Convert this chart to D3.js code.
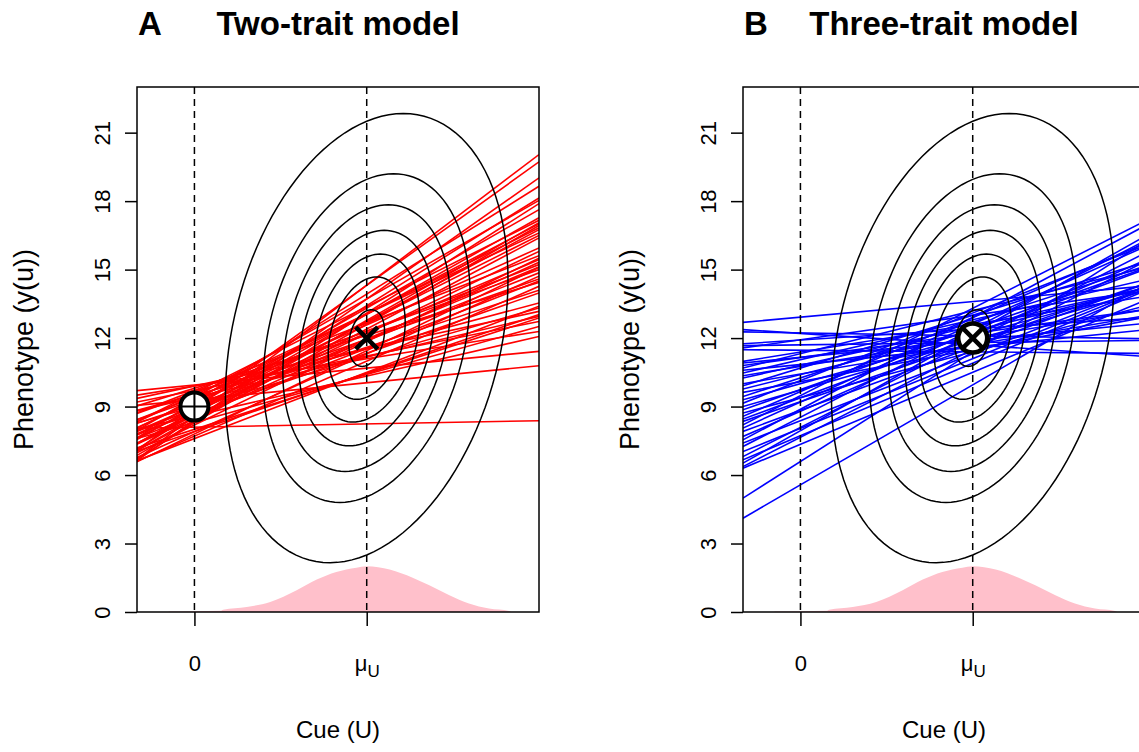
<!DOCTYPE html>
<html>
<head>
<meta charset="utf-8">
<script src="https://cdn.jsdelivr.net/npm/d3@7"></script>
<style>
  body { margin: 0; background: #fff; }
  svg text { font-family: "Liberation Sans", Arial, sans-serif; fill: #000; }
</style>
</head>
<body>
<div id="chart"></div>
<script>
// axis ticks
const yTicks = [0, 3, 6, 9, 12, 15, 18, 21];
const xTicks = [0, 3];

// environment: cue mean and phenotype mean of the contours
const cueMean = 3;
const phenoMean = 12;

// contour half widths (cue units), vertical / horizontal stretch and tilt
const contourHalfWidths = [2.46, 1.8, 1.46, 1.18, 0.92, 0.67, 0.31];
const contourAspect = 4.0;
const contourRho = 0.26;

// cue density (pink)
const densityX = [-0.45, 0, 0.45, 0.5, 0.91, 1.32, 1.78, 2.13, 2.47, 2.82, 3.0, 3.4, 3.8, 4.09, 4.44, 4.78, 5.13, 5.48, 5.52];
const densityY = [0.02, 0.03, 0.05, 0.1, 0.22, 0.44, 0.95, 1.42, 1.75, 1.94, 2.0, 1.86, 1.5, 1.17, 0.73, 0.37, 0.15, 0.04, 0];

// reaction norms, value at cue = -1 and at cue = 6
const redLeft = [6.69, 7.10, 6.63, 7.63, 7.13, 7.96, 6.70, 7.56, 7.39, 8.34,
  7.08, 7.78, 6.86, 8.05, 7.36, 8.32, 7.63, 7.07, 8.08, 7.40,
  8.72, 6.98, 7.93, 7.36, 8.43, 7.75, 6.58, 8.70, 7.91, 6.77,
  8.42, 7.62, 9.03, 6.61, 8.27, 7.82, 8.83, 6.63, 8.28, 9.36,
  7.05, 8.81, 7.19, 9.20, 7.60, 9.50, 8.02, 9.70, 9.05, 8.05];
const redRight = [20.04, 19.72, 19.02, 18.65, 18.14, 18.03, 17.89, 17.63, 17.27, 17.16,
  17.05, 17.00, 16.93, 16.83, 16.75, 16.61, 16.50, 16.39, 15.95, 15.80,
  15.61, 15.50, 15.44, 15.32, 15.22, 15.12, 15.10, 15.00, 14.86, 14.71,
  14.59, 14.50, 14.44, 14.27, 14.10, 13.98, 13.54, 13.40, 13.32, 13.17,
  13.03, 12.95, 12.88, 12.73, 12.51, 12.29, 12.07, 11.42, 10.79, 8.38];

const blueLeft = [12.69, 12.37, 12.27, 11.75, 11.67, 11.57, 11.49, 10.98, 10.91, 10.80,
  10.69, 10.59, 10.47, 10.35, 10.25, 10.00, 9.91, 9.77, 9.62, 9.44,
  9.30, 9.15, 9.00, 8.86, 8.72, 8.57, 8.45, 8.35, 8.20, 8.06,
  7.91, 7.69, 7.54, 7.40, 7.25, 7.03, 6.81, 6.67, 6.52, 6.37,
  6.30, 4.99, 4.11];
const blueRight = [14.28, 11.20, 11.97, 12.89, 11.90, 14.07, 11.33, 13.82, 12.64, 13.25,
  15.08, 12.36, 14.55, 13.24, 14.19, 12.98, 15.32, 14.20, 12.91, 15.15,
  14.20, 16.06, 14.08, 15.06, 13.41, 16.15, 15.01, 14.39, 17.13, 16.01,
  14.37, 15.41, 16.92, 14.23, 16.26, 14.15, 15.72, 14.07, 16.46, 15.35,
  13.65, 16.21, 14.33];

const lineStart = -1, lineEnd = 6;

const width = 1139, height = 752;
const plotTop = 87, plotBottom = 612, plotWidth = 402;
const fontSize = 22;

const panels = [
  { id: 'a', left: 137, letter: 'A', title: 'Two-trait model', color: '#ff0000', lefts: redLeft, rights: redRight, marker: 'cross' },
  { id: 'b', left: 743, letter: 'B', title: 'Three-trait model', color: '#0000ff', lefts: blueLeft, rights: blueRight, marker: 'circleCross' },
];

const svg = d3.select('#chart').append('svg')
  .attr('width', width)
  .attr('height', height);

function drawPanel(p) {
  const x = d3.scaleLinear().domain([-1, 6]).range([p.left, p.left + plotWidth]);
  const y = d3.scaleLinear().domain([0, 23]).range([plotBottom, plotTop]);

  svg.append('clipPath').attr('id', 'clip-' + p.id)
    .append('rect')
    .attr('x', x.range()[0]).attr('y', plotTop)
    .attr('width', plotWidth).attr('height', plotBottom - plotTop);

  const g = svg.append('g');
  const inner = g.append('g').attr('clip-path', `url(#clip-${p.id})`);

  // cue density
  const density = densityX.map((d, i) => ({ x: d, y: densityY[i] }));
  inner.append('path')
    .datum(density)
    .attr('fill', '#ffc0cb')
    .attr('d', d3.area().x(d => x(d.x)).y0(y(0)).y1(d => y(d.y)).curve(d3.curveMonotoneX));

  // reaction norms
  const norms = p.lefts.map((l, i) => [{ x: lineStart, y: l }, { x: lineEnd, y: p.rights[i] }]);
  inner.selectAll('.norm')
    .data(norms)
    .enter().append('path')
    .attr('class', 'norm')
    .attr('fill', 'none')
    .attr('stroke', p.color)
    .attr('stroke-width', 1.6)
    .attr('d', d3.line().x(d => x(d.x)).y(d => y(d.y)));

  // fitness contours
  const steps = d3.range(0, 120);
  const ellipse = (hw) => steps.map(k => {
    const t = k / 120 * 2 * Math.PI;
    const dx = hw * Math.cos(t);
    const dy = hw * contourAspect * (contourRho * Math.cos(t) + Math.sqrt(1 - contourRho * contourRho) * Math.sin(t));
    return [x(cueMean + dx), y(phenoMean + dy)];
  });
  inner.selectAll('.contour')
    .data(contourHalfWidths)
    .enter().append('path')
    .attr('class', 'contour')
    .attr('fill', 'none')
    .attr('stroke', '#000')
    .attr('stroke-width', 1.5)
    .attr('d', d => d3.line().curve(d3.curveLinearClosed)(ellipse(d)));

  // vertical reference lines
  inner.selectAll('.vline')
    .data(xTicks)
    .enter().append('line')
    .attr('x1', d => x(d)).attr('x2', d => x(d))
    .attr('y1', plotTop).attr('y2', plotBottom)
    .attr('stroke', '#000')
    .attr('stroke-width', 1.5)
    .attr('stroke-dasharray', '7,5');

  // markers
  if (p.marker === 'cross') {
    const cx = x(0), cy = y(9), r = 14;
    g.append('circle').attr('cx', cx).attr('cy', cy).attr('r', r)
      .attr('fill', '#fff').attr('stroke', '#000').attr('stroke-width', 4);
    g.append('path')
      .attr('d', `M${cx - r},${cy}H${cx + r}M${cx},${cy - r}V${cy + r}`)
      .attr('stroke', '#000').attr('stroke-width', 2);
    const mx = x(cueMean), my = y(phenoMean), s = 11;
    g.append('path')
      .attr('d', `M${mx - s},${my - s}L${mx + s},${my + s}M${mx - s},${my + s}L${mx + s},${my - s}`)
      .attr('stroke', '#000').attr('stroke-width', 4.5);
  } else {
    const cx = x(cueMean), cy = y(phenoMean), r = 14.5;
    const s = r / Math.SQRT2;
    g.append('circle').attr('cx', cx).attr('cy', cy).attr('r', r)
      .attr('fill', '#fff').attr('stroke', '#000').attr('stroke-width', 4.5);
    g.append('path')
      .attr('d', `M${cx - s},${cy - s}L${cx + s},${cy + s}M${cx - s},${cy + s}L${cx + s},${cy - s}`)
      .attr('stroke', '#000').attr('stroke-width', 4.5);
  }

  // box
  g.append('rect')
    .attr('x', x.range()[0]).attr('y', plotTop)
    .attr('width', plotWidth).attr('height', plotBottom - plotTop)
    .attr('fill', 'none').attr('stroke', '#000').attr('stroke-width', 1.5);

  // y axis
  const yAxis = g.append('g')
    .attr('transform', `translate(${x.range()[0]},0)`)
    .call(d3.axisLeft(y).tickValues(yTicks).tickSize(12).tickFormat(d3.format('d')));
  yAxis.select('.domain').remove();
  yAxis.selectAll('line').attr('stroke-width', 1.5);
  yAxis.selectAll('text')
    .attr('transform', 'rotate(-90)')
    .attr('x', 0).attr('y', -27).attr('dy', 0)
    .attr('text-anchor', 'middle')
    .style('font-size', fontSize + 'px');

  // x axis
  const xAxis = g.append('g')
    .attr('transform', `translate(0,${plotBottom})`)
    .call(d3.axisBottom(x).tickValues(xTicks).tickSize(14).tickFormat(''));
  xAxis.select('.domain').remove();
  xAxis.selectAll('line').attr('stroke-width', 1.5);
  xAxis.selectAll('.tick').each(function (d) {
    const t = d3.select(this).append('text')
      .attr('y', 59)
      .attr('text-anchor', 'middle')
      .style('font-size', fontSize + 'px');
    if (d === 0) {
      t.text('0');
    } else {
      t.append('tspan').text('\u03bc');
      t.append('tspan').attr('dy', 6).style('font-size', '17px').text('U');
    }
  });

  // titles
  const mid = p.left + plotWidth / 2;
  g.append('text')
    .attr('x', mid).attr('y', 738)
    .attr('text-anchor', 'middle')
    .style('font-size', '24px')
    .text('Cue (U)');
  g.append('text')
    .attr('transform', `translate(${p.left - 104},${(plotTop + plotBottom) / 2}) rotate(-90)`)
    .attr('text-anchor', 'middle')
    .style('font-size', '27px')
    .text('Phenotype (y(u))');
  g.append('text')
    .attr('x', p.left + 1).attr('y', 35)
    .style('font-size', '33px').style('font-weight', 'bold')
    .text(p.letter);
  g.append('text')
    .attr('x', mid).attr('y', 35)
    .attr('text-anchor', 'middle')
    .style('font-size', '33px').style('font-weight', 'bold')
    .text(p.title);
}

panels.forEach(drawPanel);
</script>
</body>
</html>
